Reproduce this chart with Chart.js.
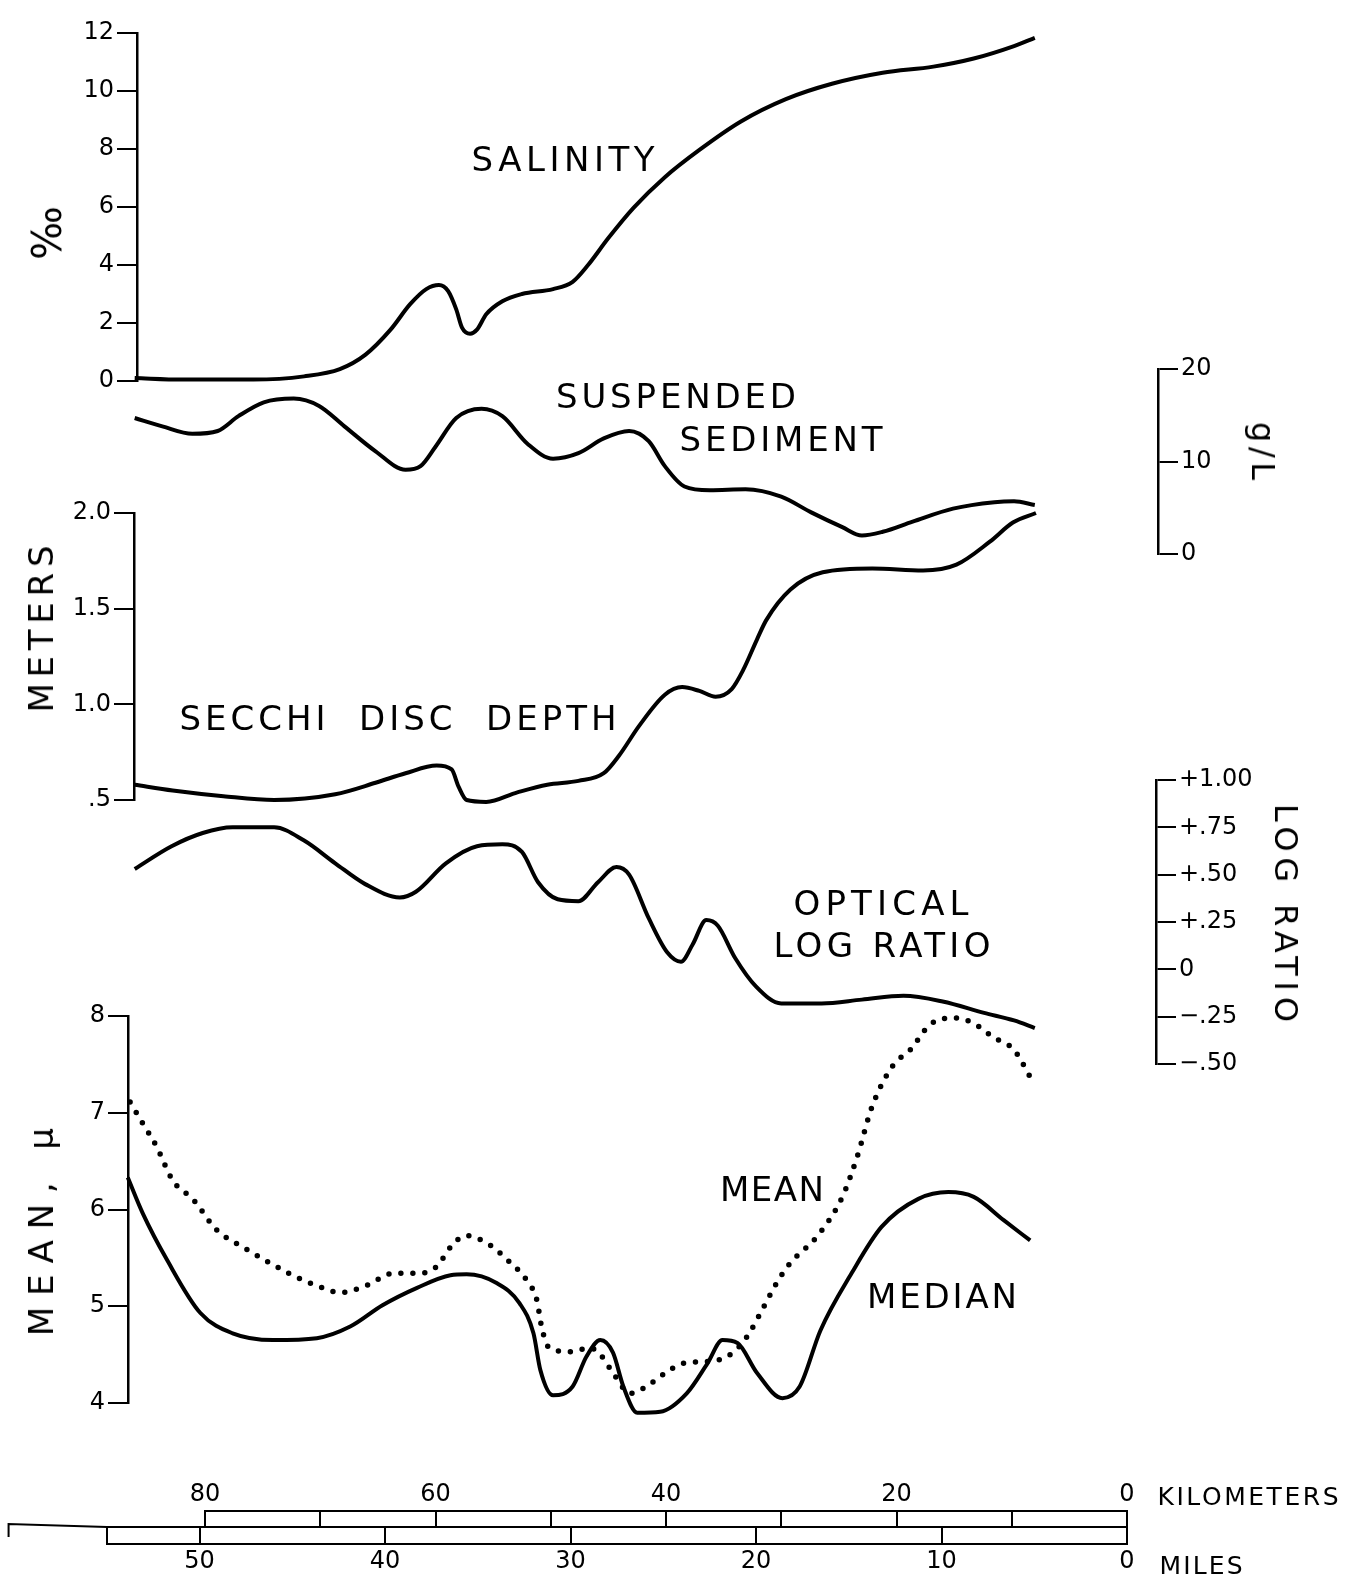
<!DOCTYPE html>
<html>
<head>
<meta charset="utf-8">
<script src="https://cdn.jsdelivr.net/npm/chart.js@4.4.1/dist/chart.umd.min.js"></script>
<style>
  html, body { margin: 0; padding: 0; background: #fff; }
  #page { position: relative; width: 1346px; height: 1591px; overflow: hidden; background: #fff; }
  #page canvas { position: absolute; left: 0; top: 0; }
  .lbl { position: absolute; font-family: 'DejaVu Sans', sans-serif; color: #000; white-space: pre; line-height: 1; }
</style>
</head>
<body>
<div id="page">
  <canvas id="salinityChart" width="1346" height="1591"></canvas>
  <canvas id="sedimentChart" width="1346" height="1591"></canvas>
  <canvas id="secchiChart" width="1346" height="1591"></canvas>
  <canvas id="logRatioChart" width="1346" height="1591"></canvas>
  <canvas id="grainChart" width="1346" height="1591"></canvas>
  <canvas id="kmBar" width="1346" height="1591"></canvas>
  <canvas id="milesBar" width="1346" height="1591"></canvas>
</div>
<script>
// distance along the estuary, kilometers (0 at the right end)
const salinityKm = [86.1, 82.0, 75.8, 71.4, 68.3, 66.1, 63.9, 62.2, 60.8, 59.7, 58.9, 58.2, 57.7, 57.0, 56.4, 55.6, 54.2, 52.5, 49.8, 48.1, 46.8, 45.0, 42.8, 40.1, 37.1, 33.5, 29.6, 25.6, 21.2, 16.8, 13.3, 9.8, 8.0];
const salinity = [0.10, 0.05, 0.05, 0.16, 0.41, 0.90, 1.77, 2.65, 3.17, 3.31, 3.10, 2.47, 1.84, 1.63, 1.77, 2.30, 2.75, 3.00, 3.17, 3.42, 3.98, 4.93, 5.98, 7.03, 7.97, 8.95, 9.72, 10.25, 10.63, 10.84, 11.12, 11.55, 11.83];

const sedimentKm = [86.1, 83.7, 81.1, 78.9, 77.1, 74.9, 72.3, 70.1, 67.9, 65.2, 62.6, 61.3, 60.0, 58.2, 56.0, 54.2, 52.0, 49.8, 47.6, 45.4, 43.2, 41.5, 40.1, 38.4, 36.2, 33.1, 30.0, 27.4, 24.7, 23.0, 21.2, 18.6, 15.1, 11.5, 9.8, 8.0];
const sediment = [14.7, 13.8, 13.0, 13.3, 14.9, 16.4, 16.8, 16.0, 13.8, 11.1, 9.1, 9.5, 11.6, 14.7, 15.7, 14.9, 11.9, 10.3, 10.9, 12.5, 13.3, 12.2, 9.5, 7.3, 6.9, 7.0, 6.2, 4.5, 2.9, 2.0, 2.4, 3.5, 4.9, 5.6, 5.7, 5.3];

const secchiKm = [86.1, 82.8, 78.4, 74.0, 68.7, 65.2, 62.6, 59.9, 58.6, 58.0, 57.3, 55.6, 52.9, 50.3, 47.6, 45.4, 44.1, 42.3, 40.1, 38.6, 37.1, 35.7, 34.3, 33.3, 32.1, 31.3, 29.2, 26.4, 22.1, 17.7, 14.8, 11.9, 9.9, 7.9];
const secchi = [0.58, 0.55, 0.52, 0.50, 0.53, 0.59, 0.64, 0.68, 0.66, 0.57, 0.50, 0.49, 0.54, 0.58, 0.60, 0.64, 0.73, 0.89, 1.05, 1.09, 1.07, 1.04, 1.08, 1.18, 1.34, 1.44, 1.60, 1.69, 1.71, 1.70, 1.73, 1.85, 1.95, 2.00];

const logRatioKm = [86.1, 82.9, 80.2, 77.6, 74.0, 71.4, 68.7, 66.1, 63.1, 61.7, 59.1, 56.4, 54.2, 52.5, 51.1, 49.4, 47.6, 45.9, 44.3, 43.2, 41.5, 39.9, 38.7, 37.7, 36.5, 35.5, 34.0, 32.2, 30.0, 26.5, 23.0, 19.4, 16.0, 12.4, 9.8, 8.0];
const logRatio = [0.53, 0.65, 0.72, 0.75, 0.75, 0.68, 0.56, 0.45, 0.38, 0.41, 0.56, 0.65, 0.66, 0.62, 0.46, 0.37, 0.36, 0.46, 0.54, 0.50, 0.27, 0.09, 0.04, 0.13, 0.26, 0.23, 0.06, -0.09, -0.18, -0.18, -0.16, -0.14, -0.17, -0.23, -0.27, -0.31];

const meanKm = [86.5, 85.4, 84.2, 82.8, 81.0, 79.0, 76.7, 74.4, 72.4, 69.8, 68.3, 65.9, 63.7, 61.6, 59.9, 58.7, 57.4, 55.5, 53.5, 52.1, 51.2, 50.8, 50.2, 48.3, 46.6, 45.7, 44.6, 43.1, 41.7, 40.3, 38.5, 35.6, 34.2, 33.0, 31.8, 30.4, 29.2, 27.8, 26.9, 24.7, 23.4, 22.1, 20.3, 18.8, 17.1, 15.1, 13.4, 11.6, 9.8, 8.4];
const meanSize = [7.11, 6.89, 6.65, 6.30, 6.10, 5.79, 5.61, 5.45, 5.32, 5.19, 5.14, 5.22, 5.34, 5.34, 5.41, 5.61, 5.73, 5.65, 5.45, 5.27, 5.06, 4.79, 4.58, 4.53, 4.57, 4.50, 4.31, 4.10, 4.17, 4.29, 4.41, 4.44, 4.52, 4.68, 4.93, 5.24, 5.45, 5.61, 5.72, 6.13, 6.55, 7.07, 7.49, 7.65, 7.91, 7.98, 7.93, 7.78, 7.65, 7.37];

const medianKm = [86.7, 85.4, 83.3, 80.4, 77.6, 74.1, 70.3, 67.4, 64.6, 61.6, 58.7, 57.3, 54.7, 52.7, 51.5, 50.9, 49.8, 48.1, 46.9, 45.7, 44.6, 43.7, 42.5, 40.5, 38.2, 36.4, 35.1, 33.8, 32.1, 29.9, 28.4, 26.6, 23.9, 21.3, 18.1, 15.5, 13.3, 10.7, 8.4];
const medianSize = [6.33, 5.96, 5.48, 4.93, 4.72, 4.65, 4.67, 4.79, 5.01, 5.19, 5.32, 5.33, 5.24, 5.03, 4.72, 4.34, 4.08, 4.17, 4.48, 4.65, 4.52, 4.17, 3.90, 3.91, 4.10, 4.41, 4.65, 4.62, 4.31, 4.05, 4.17, 4.75, 5.34, 5.82, 6.11, 6.18, 6.13, 5.89, 5.68];

// scale bar ticks
const kmTicks = [0, 10, 20, 30, 40, 50, 60, 70, 80];
const mileTicks = [0, 10, 20, 30, 40, 50, 55];

// page geometry
const PAGE_W = 1346, PAGE_H = 1591;
const KM0_PX = 1127, PX_PER_KM = 11.525, KM_PER_MILE = 1.609344;
const kmAt = px => (KM0_PX - px) / PX_PER_KM;
const FONT = "'DejaVu Sans', sans-serif";
const AXIS_W = 110;
const TICK_FONT = { family: FONT, size: 24 };

const pts = (xs, ys) => xs.map((x, i) => ({ x: x, y: ys[i] }));
const line = (xs, ys, extra) => Object.assign({
  data: pts(xs, ys), borderColor: '#000', borderWidth: 4, pointRadius: 0,
  fill: false, clip: false, cubicInterpolationMode: 'monotone'
}, extra || {});

const noPlugins = { legend: { display: false }, tooltip: { enabled: false } };

function panel(id, box, yAxis, datasets) {
  const onRight = yAxis.position === 'right';
  return new Chart(document.getElementById(id), {
    type: 'line',
    data: { datasets: datasets },
    options: {
      responsive: false, animation: false, events: [],
      layout: {
        padding: {
          left: onRight ? box.left : box.left - AXIS_W,
          right: onRight ? PAGE_W - box.right - AXIS_W : PAGE_W - box.right,
          top: box.top,
          bottom: PAGE_H - box.bottom
        }
      },
      plugins: noPlugins,
      scales: {
        x: { type: 'linear', display: false, reverse: true, min: kmAt(box.right), max: kmAt(box.left) },
        y: {
          position: yAxis.position, min: yAxis.min, max: yAxis.max,
          afterFit: s => { s.width = AXIS_W; },
          ticks: { stepSize: yAxis.step, callback: yAxis.fmt, color: '#000', font: TICK_FONT, padding: 3 },
          grid: { drawOnChartArea: false, drawTicks: true, tickLength: 20, color: '#000', lineWidth: 2 },
          border: { display: true, color: '#000', width: 2.5 }
        }
      }
    }
  });
}

panel('salinityChart', { left: 137, right: 1045, top: 33, bottom: 381 },
  { position: 'left', min: 0, max: 12, step: 2, fmt: v => String(v) },
  [line(salinityKm, salinity)]);

panel('sedimentChart', { left: 120, right: 1158, top: 369, bottom: 554 },
  { position: 'right', min: 0, max: 20, step: 10, fmt: v => String(v) },
  [line(sedimentKm, sediment)]);

panel('secchiChart', { left: 134, right: 1045, top: 513, bottom: 800 },
  { position: 'left', min: 0.5, max: 2.0, step: 0.5, fmt: v => v === 0.5 ? '.5' : v.toFixed(1) },
  [line(secchiKm, secchi)]);

const fmtLog = v => {
  const r = Math.round(v * 100) / 100;
  if (r === 0) return '0';
  const s = Math.abs(r) >= 1 ? Math.abs(r).toFixed(2) : Math.abs(r).toFixed(2).slice(1);
  return (r > 0 ? '+' : '\u2212') + s;
};
panel('logRatioChart', { left: 120, right: 1156, top: 780, bottom: 1064 },
  { position: 'right', min: -0.5, max: 1.0, step: 0.25, fmt: fmtLog },
  [line(logRatioKm, logRatio)]);

panel('grainChart', { left: 128, right: 1045, top: 1016, bottom: 1403 },
  { position: 'left', min: 4, max: 8, step: 1, fmt: v => String(v) },
  [
    line(meanKm, meanSize, { borderWidth: 5.5, borderDash: [0, 12], borderCapStyle: 'round' }),
    line(medianKm, medianSize)
  ]);

// kilometer row of the scale bar
const KM_BAR = { left: KM0_PX - 80 * PX_PER_KM, right: KM0_PX, top: 1511, bottom: 1527 };
new Chart(document.getElementById('kmBar'), {
  type: 'line', data: { datasets: [] },
  options: {
    responsive: false, animation: false, events: [],
    layout: { padding: { left: KM_BAR.left, right: PAGE_W - KM_BAR.right, top: KM_BAR.top - 40, bottom: PAGE_H - KM_BAR.bottom } },
    plugins: noPlugins,
    scales: {
      x: {
        type: 'linear', position: 'top', reverse: true, min: 0, max: 80,
        afterBuildTicks: s => { s.ticks = kmTicks.map(v => ({ value: v })); },
        afterFit: s => { s.height = 40; },
        ticks: { autoSkip: false, maxRotation: 0, callback: v => v % 20 === 0 ? String(v) : '', color: '#000', font: TICK_FONT, padding: 2 },
        grid: { drawOnChartArea: true, drawTicks: false, color: '#000', lineWidth: 2 },
        border: { display: true, color: '#000', width: 2 }
      },
      x2: {
        axis: 'x', type: 'linear', position: 'bottom', reverse: true, min: 0, max: 80,
        afterFit: s => { s.height = 0; },
        ticks: { display: false }, grid: { display: false, drawTicks: false },
        border: { display: true, color: '#000', width: 2 }
      },
      y: { display: false, min: 0, max: 1 }
    }
  }
});

// miles row of the scale bar, with the left extension of the middle line
const MI_BAR = { left: KM0_PX - 55 * KM_PER_MILE * PX_PER_KM, right: KM0_PX, top: 1527, bottom: 1544 };
const leftBracket = {
  id: 'leftBracket',
  afterDraw(chart) {
    const s = chart.scales.x, top = chart.chartArea.top, ctx = chart.ctx;
    const x0 = s.getPixelForValue(55), x1 = s.getPixelForValue(60.3);
    ctx.save();
    ctx.strokeStyle = '#000';
    ctx.lineWidth = 2;
    ctx.beginPath();
    ctx.moveTo(x0, top);
    ctx.lineTo(x1, top - 3);
    ctx.lineTo(x1, top + 10);
    ctx.stroke();
    ctx.restore();
  }
};
new Chart(document.getElementById('milesBar'), {
  type: 'line', data: { datasets: [] },
  options: {
    responsive: false, animation: false, events: [],
    layout: { padding: { left: MI_BAR.left, right: PAGE_W - MI_BAR.right, top: MI_BAR.top, bottom: PAGE_H - MI_BAR.bottom - 40 } },
    plugins: noPlugins,
    scales: {
      x: {
        type: 'linear', position: 'bottom', reverse: true, min: 0, max: 55,
        afterBuildTicks: s => { s.ticks = mileTicks.map(v => ({ value: v })); },
        afterFit: s => { s.height = 40; },
        ticks: { autoSkip: false, maxRotation: 0, callback: v => v === 55 ? '' : String(v), color: '#000', font: TICK_FONT, padding: 3 },
        grid: { drawOnChartArea: true, drawTicks: false, color: '#000', lineWidth: 2 },
        border: { display: true, color: '#000', width: 2 }
      },
      x2: {
        axis: 'x', type: 'linear', position: 'top', reverse: true, min: 0, max: 55,
        afterFit: s => { s.height = 0; },
        ticks: { display: false }, grid: { display: false, drawTicks: false },
        border: { display: true, color: '#000', width: 2 }
      },
      y: { display: false, min: 0, max: 1 }
    }
  },
  plugins: [leftBracket]
});

// text labels: [text, centre x, centre y, font size, target width, rotation]
const labels = [
  ['\u2030', 47, 233, 40, 0, -90],
  ['METERS', 41, 629, 34, 167, -90],
  ['MEAN, \u03bc', 41, 1232, 34, 208, -90],
  ['g/L', 1263, 451, 32, 58, 90],
  ['LOG RATIO', 1286, 913, 32, 218, 90],
  ['SALINITY', 563, 159, 34, 183, 0],
  ['SUSPENDED', 676, 396, 34, 240, 0],
  ['SEDIMENT', 781, 439, 34, 203, 0],
  ['SECCHI  DISC  DEPTH', 398, 718, 34, 437, 0],
  ['OPTICAL', 881, 903, 34, 175, 0],
  ['LOG RATIO', 882, 945, 34, 217, 0],
  ['MEAN', 772, 1189, 34, 104, 0],
  ['MEDIAN', 942, 1296, 34, 150, 0],
  ['KILOMETERS', 1248, 1496, 25, 181, 0],
  ['MILES', 1201, 1565, 25, 83, 0]
];
const measure = document.createElement('canvas').getContext('2d');
const page = document.getElementById('page');
labels.forEach(([text, x, y, size, width, rot]) => {
  measure.font = size + "px 'DejaVu Sans'";
  const natural = measure.measureText(text).width;
  const spacing = width > 0 && text.length > 1 ? (width - natural) / (text.length - 1) : 0;
  const d = document.createElement('div');
  d.className = 'lbl';
  d.textContent = text;
  d.style.fontSize = size + 'px';
  d.style.letterSpacing = spacing.toFixed(2) + 'px';
  d.style.paddingLeft = spacing.toFixed(2) + 'px';
  d.style.left = x + 'px';
  d.style.top = y + 'px';
  d.style.transform = 'translate(-50%, -50%) rotate(' + rot + 'deg)';
  page.appendChild(d);
});
</script>
</body>
</html>
